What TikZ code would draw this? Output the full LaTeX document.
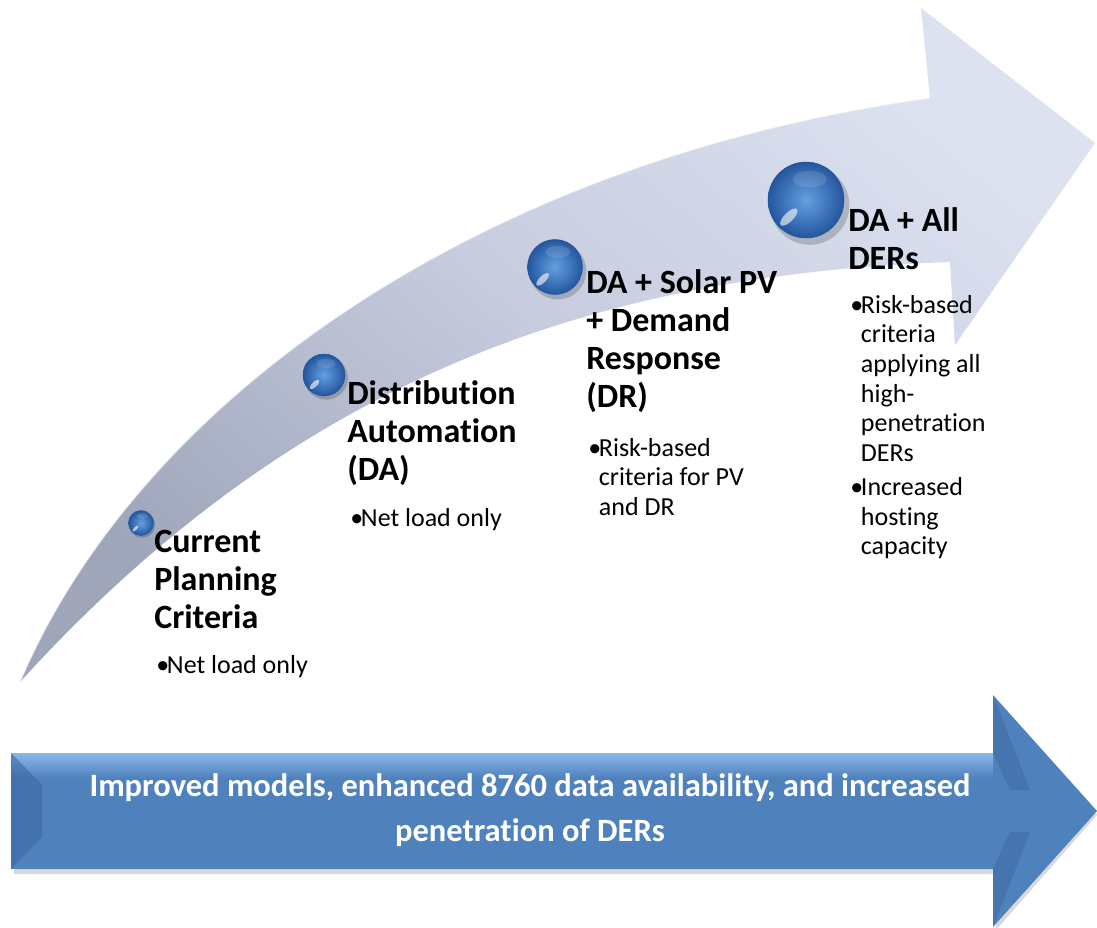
\documentclass[tikz,border=0pt]{standalone}
\usepackage{fontspec}
\setmainfont{Carlito}[RawFeature={-liga;-clig;-dlig;-calt}]
\definecolor{arrdark}{RGB}{160,166,186}
\definecolor{arrmid}{RGB}{198,204,222}
\definecolor{arrlight}{RGB}{220,226,240}
\definecolor{officeblue}{RGB}{79,129,189}
\definecolor{bluedeep}{RGB}{60,104,162}
\definecolor{bluetop}{RGB}{140,184,232}
\definecolor{orbin}{RGB}{100,160,225}
\definecolor{orbout}{RGB}{36,86,158}
\newcommand\rows[1]{\begin{tabular}[t]{@{}l@{}}#1\end{tabular}}
\newcommand\blist[1]{\begin{tabular}[t]{@{}l@{}l@{}}#1\end{tabular}}
\newcommand\bu{\makebox[8pt][l]{•}}
\newcommand\orb[4]{%
  \fill[black,opacity=.18] (#2+0.1*#4,#3+0.14*#4) circle [radius=1.04*#4];
  \node[orb,minimum size={1.5pt*#4}] (#1) at (#2,#3) {};
  \fill[white,opacity=.6] (#2-0.45*#4,#3+0.45*#4) ellipse [x radius=0.3*#4, y radius=0.12*#4, rotate=45];
  \fill[white,opacity=.12] (#2+0.1*#4,#3-0.55*#4) ellipse [x radius=0.45*#4, y radius=0.22*#4];
}
\begin{document}
\begin{tikzpicture}[x=0.75pt,y=-0.75pt,
  head/.style={anchor=base west,inner sep=0pt,font=\bfseries\fontsize{25.5}{28.5}\selectfont},
  bul/.style={anchor=base west,inner sep=0pt,font=\fontsize{19.5}{22.3}\selectfont},
  orb/.style={circle,inner sep=0pt,draw=orbout,line width=0.4pt,inner color=orbin,outer color=orbout},
  band/.style={top color=arrlight,bottom color=arrdark,middle color=arrmid,shading angle=-40},
  banner/.style={fill=officeblue},
  bannertext/.style={anchor=base,inner sep=0pt,text=white,font=\bfseries\fontsize{24.4}{33.75}\selectfont}
  ]
\useasboundingbox (0,0) rectangle (1097,928);
\fill[white] (0,0) rectangle (1097,928);

% curved arrow
\shade[band] (20,682) .. controls (140,400) and (480,160) .. (930,98)
  -- (921,8) -- (1095,143) -- (955,345) -- (950,262)
  .. controls (600,275) and (300,374) .. (20,682) -- cycle;
\draw[white,opacity=.5,line width=1pt] (20,682) .. controls (140,400) and (480,160) .. (930,98);

% orbs
\orb{s1}{141}{523}{12.5}
\orb{s2}{324}{375}{21}
\orb{s3}{555}{267}{27.5}
\orb{s4}{806}{200}{38}

% headings
\node[head] (h1) at (154,552) {\rows{Current\\Planning\\Criteria}};
\node[head] (h2) at (347,404) {\rows{Distribution\\Automation\\(DA)}};
\node[head] (h3) at (586,293) {\rows{DA + Solar PV\\+ Demand\\Response\\(DR)}};
\node[head] (h4) at (848,231) {\rows{DA + All\\DERs}};

% bullets
\node[bul] (b1) at (156,673) {\blist{\bu&Net load only}};
\node[bul] (b2) at (350,526) {\blist{\bu&Net load only}};
\node[bul] (b3) at (588,456) {\blist{\bu&Risk-based\\&criteria for PV\\&and DR}};
\node[bul] (b4) at (850,313) {\blist{\bu&Risk-based\\&criteria\\&applying all\\&high-\\&penetration\\&DERs\\[3pt]\bu&Increased\\&hosting\\&capacity}};

% bottom arrow
\fill[black,opacity=.15] (14,758) -- (996,758) -- (996,700) -- (1097,815) -- (996,930) -- (996,874) -- (14,874) -- cycle;
\fill[banner] (11,753) -- (993,753) -- (993,695) -- (1097,811) -- (993,927) -- (993,869) -- (11,869) -- cycle;
\shade[top color=bluetop,bottom color=officeblue] (11,753) rectangle (993,778);
\fill[bluedeep,opacity=.6] (11,753) -- (42,785) -- (42,837) -- (11,869) -- cycle;
\fill[bluedeep,opacity=.5] (993,695) -- (1030,790) -- (1010,790) -- (993,753) -- cycle;
\fill[bluedeep,opacity=.5] (993,927) -- (1030,832) -- (1010,832) -- (993,869) -- cycle;
\node[bannertext] (bt) at (530,796) {\begin{tabular}[t]{@{}c@{}}Improved models, enhanced 8760 data availability, and increased\\penetration of DERs\end{tabular}};
\end{tikzpicture}
\end{document}
